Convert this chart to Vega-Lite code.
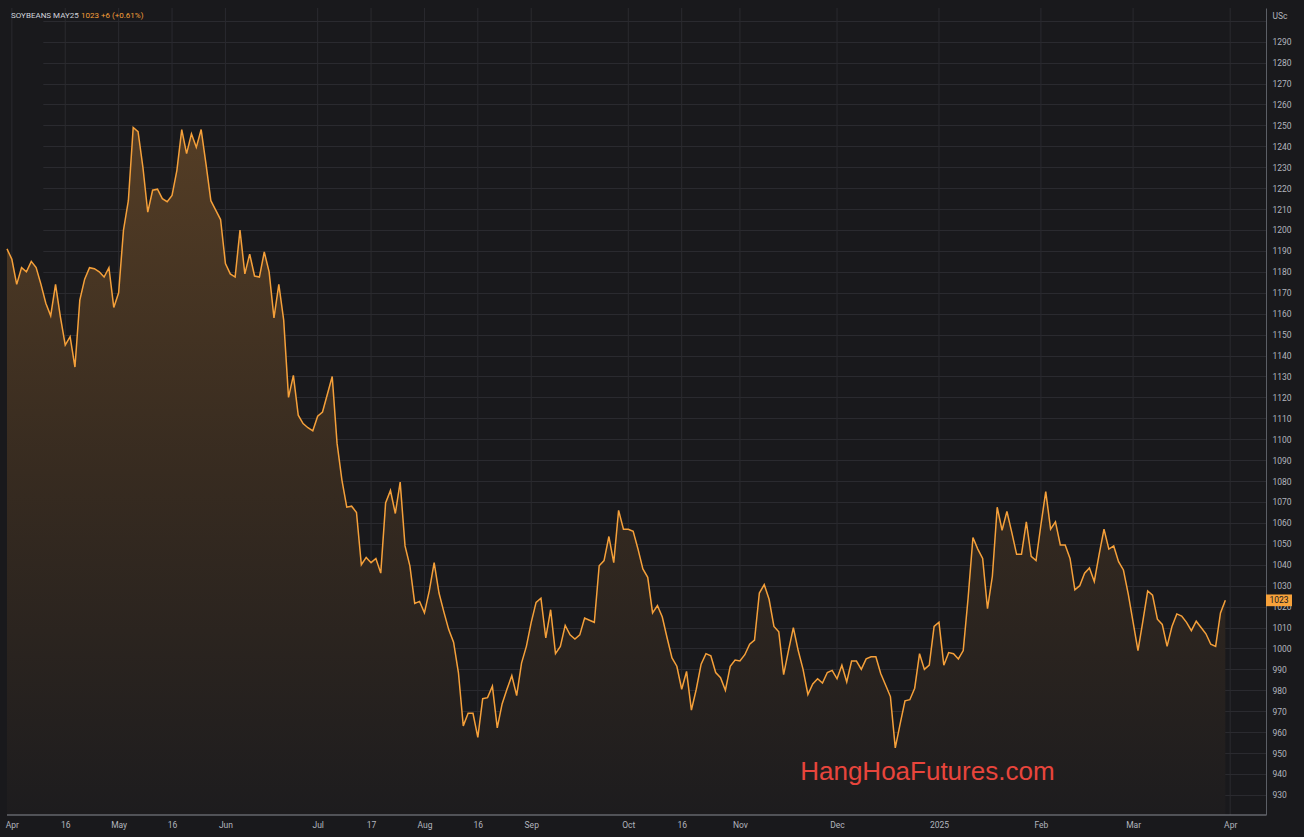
{
  "$schema": "https://vega.github.io/schema/vega-lite/v6.json",
  "width": 1259,
  "height": 807,
  "autosize": {"type": "none"},
  "padding": {"left": 7, "top": 8, "right": 38, "bottom": 22},
  "background": "#19191c",
  "config": {"view": {"stroke": null}, "font": "Roboto"},
  "datasets": {
    "ticks": [
      {"d": "2024-04-01"}, {"d": "2024-04-16"}, {"d": "2024-05-01"}, {"d": "2024-05-16"},
      {"d": "2024-06-03"}, {"d": "2024-07-01"}, {"d": "2024-07-17"}, {"d": "2024-08-01"},
      {"d": "2024-08-16"}, {"d": "2024-09-03"}, {"d": "2024-10-01"}, {"d": "2024-10-16"},
      {"d": "2024-11-01"}, {"d": "2024-12-02"}, {"d": "2025-01-02"}, {"d": "2025-02-03"},
      {"d": "2025-03-03"}, {"d": "2025-04-01"}
    ],
    "prices": [
      {"d":"2024-03-28","v":1191},{"d":"2024-04-01","v":1186},{"d":"2024-04-02","v":1174},{"d":"2024-04-03","v":1182},
      {"d":"2024-04-04","v":1180},{"d":"2024-04-05","v":1185},{"d":"2024-04-08","v":1182},{"d":"2024-04-09","v":1174},
      {"d":"2024-04-10","v":1165},{"d":"2024-04-11","v":1159},{"d":"2024-04-12","v":1174},{"d":"2024-04-15","v":1158.5},
      {"d":"2024-04-16","v":1145},{"d":"2024-04-17","v":1149},{"d":"2024-04-18","v":1134.5},{"d":"2024-04-19","v":1166.5},
      {"d":"2024-04-22","v":1176.5},{"d":"2024-04-23","v":1182},{"d":"2024-04-24","v":1181.5},{"d":"2024-04-25","v":1180},
      {"d":"2024-04-26","v":1177.5},{"d":"2024-04-29","v":1182},{"d":"2024-04-30","v":1163},{"d":"2024-05-01","v":1170},
      {"d":"2024-05-02","v":1200},{"d":"2024-05-03","v":1214},{"d":"2024-05-06","v":1249},{"d":"2024-05-07","v":1247},
      {"d":"2024-05-08","v":1230},{"d":"2024-05-09","v":1208.5},{"d":"2024-05-10","v":1219},{"d":"2024-05-13","v":1219.5},
      {"d":"2024-05-14","v":1215},{"d":"2024-05-15","v":1213.5},{"d":"2024-05-16","v":1216.5},{"d":"2024-05-17","v":1228.5},
      {"d":"2024-05-20","v":1248},{"d":"2024-05-21","v":1236.5},{"d":"2024-05-22","v":1246},{"d":"2024-05-23","v":1239.5},
      {"d":"2024-05-24","v":1248},{"d":"2024-05-28","v":1231.5},{"d":"2024-05-29","v":1214},{"d":"2024-05-30","v":1209.5},
      {"d":"2024-05-31","v":1205},{"d":"2024-06-03","v":1184},{"d":"2024-06-04","v":1179},{"d":"2024-06-05","v":1177.5},
      {"d":"2024-06-06","v":1200},{"d":"2024-06-07","v":1179},{"d":"2024-06-10","v":1188.5},{"d":"2024-06-11","v":1178},
      {"d":"2024-06-12","v":1177.5},{"d":"2024-06-13","v":1189.5},{"d":"2024-06-14","v":1180},{"d":"2024-06-17","v":1158},
      {"d":"2024-06-18","v":1174},{"d":"2024-06-20","v":1157},{"d":"2024-06-21","v":1120},{"d":"2024-06-24","v":1130.5},
      {"d":"2024-06-25","v":1111.5},{"d":"2024-06-26","v":1107.5},{"d":"2024-06-27","v":1105.5},{"d":"2024-06-28","v":1104},
      {"d":"2024-07-01","v":1111},{"d":"2024-07-02","v":1113},{"d":"2024-07-03","v":1121.5},{"d":"2024-07-05","v":1130},
      {"d":"2024-07-08","v":1098},{"d":"2024-07-09","v":1080.5},{"d":"2024-07-10","v":1067.5},{"d":"2024-07-11","v":1068},
      {"d":"2024-07-12","v":1065},{"d":"2024-07-15","v":1040},{"d":"2024-07-16","v":1043.5},{"d":"2024-07-17","v":1041},
      {"d":"2024-07-18","v":1043},{"d":"2024-07-19","v":1036},{"d":"2024-07-22","v":1069.5},{"d":"2024-07-23","v":1075.5},
      {"d":"2024-07-24","v":1064.5},{"d":"2024-07-25","v":1079.5},{"d":"2024-07-26","v":1049},{"d":"2024-07-29","v":1039.5},
      {"d":"2024-07-30","v":1021.5},{"d":"2024-07-31","v":1022.5},{"d":"2024-08-01","v":1017},{"d":"2024-08-02","v":1027.5},
      {"d":"2024-08-05","v":1041},{"d":"2024-08-06","v":1026.5},{"d":"2024-08-07","v":1017.5},{"d":"2024-08-08","v":1009},
      {"d":"2024-08-09","v":1003},{"d":"2024-08-12","v":988.5},{"d":"2024-08-13","v":963},{"d":"2024-08-14","v":969},
      {"d":"2024-08-15","v":969},{"d":"2024-08-16","v":957.5},{"d":"2024-08-19","v":976},{"d":"2024-08-20","v":976.5},
      {"d":"2024-08-21","v":982},{"d":"2024-08-22","v":962},{"d":"2024-08-23","v":973.5},{"d":"2024-08-26","v":980.5},
      {"d":"2024-08-27","v":987},{"d":"2024-08-28","v":977.5},{"d":"2024-08-29","v":993},{"d":"2024-08-30","v":1001},
      {"d":"2024-09-03","v":1012.5},{"d":"2024-09-04","v":1022},{"d":"2024-09-05","v":1024},{"d":"2024-09-06","v":1005},
      {"d":"2024-09-09","v":1018.5},{"d":"2024-09-10","v":997.5},{"d":"2024-09-11","v":1001},{"d":"2024-09-12","v":1011},
      {"d":"2024-09-13","v":1006.5},{"d":"2024-09-16","v":1004.5},{"d":"2024-09-17","v":1006.5},{"d":"2024-09-18","v":1014.5},
      {"d":"2024-09-19","v":1013.5},{"d":"2024-09-20","v":1012.5},{"d":"2024-09-23","v":1039.5},{"d":"2024-09-24","v":1042},
      {"d":"2024-09-25","v":1053.5},{"d":"2024-09-26","v":1041},{"d":"2024-09-27","v":1066},{"d":"2024-09-30","v":1057},
      {"d":"2024-10-01","v":1057},{"d":"2024-10-02","v":1056},{"d":"2024-10-03","v":1047.5},{"d":"2024-10-04","v":1038},
      {"d":"2024-10-07","v":1034},{"d":"2024-10-08","v":1017},{"d":"2024-10-09","v":1020.5},{"d":"2024-10-10","v":1015},
      {"d":"2024-10-11","v":1005},{"d":"2024-10-14","v":995.5},{"d":"2024-10-15","v":991.5},{"d":"2024-10-16","v":980.5},
      {"d":"2024-10-17","v":989},{"d":"2024-10-18","v":970.5},{"d":"2024-10-21","v":980.5},{"d":"2024-10-22","v":992.5},
      {"d":"2024-10-23","v":997.5},{"d":"2024-10-24","v":996.5},{"d":"2024-10-25","v":988.5},{"d":"2024-10-28","v":986},
      {"d":"2024-10-29","v":980},{"d":"2024-10-30","v":991.5},{"d":"2024-10-31","v":994.5},{"d":"2024-11-01","v":994},
      {"d":"2024-11-04","v":997},{"d":"2024-11-05","v":1002},{"d":"2024-11-06","v":1004},{"d":"2024-11-07","v":1026.5},
      {"d":"2024-11-08","v":1030.5},{"d":"2024-11-11","v":1023.5},{"d":"2024-11-12","v":1010.5},{"d":"2024-11-13","v":1008},
      {"d":"2024-11-14","v":987.5},{"d":"2024-11-15","v":999},{"d":"2024-11-18","v":1010},{"d":"2024-11-19","v":999},
      {"d":"2024-11-20","v":990},{"d":"2024-11-21","v":978},{"d":"2024-11-22","v":983},{"d":"2024-11-25","v":985.5},
      {"d":"2024-11-26","v":983.5},{"d":"2024-11-27","v":988.5},{"d":"2024-11-29","v":989.5},{"d":"2024-12-02","v":985.5},
      {"d":"2024-12-03","v":992},{"d":"2024-12-04","v":984},{"d":"2024-12-05","v":994},{"d":"2024-12-06","v":994},
      {"d":"2024-12-09","v":990},{"d":"2024-12-10","v":995},{"d":"2024-12-11","v":996},{"d":"2024-12-12","v":996},
      {"d":"2024-12-13","v":988},{"d":"2024-12-16","v":982.5},{"d":"2024-12-17","v":977},{"d":"2024-12-18","v":952.5},
      {"d":"2024-12-19","v":964},{"d":"2024-12-20","v":975},{"d":"2024-12-23","v":975.5},{"d":"2024-12-24","v":981},
      {"d":"2024-12-26","v":997.5},{"d":"2024-12-27","v":990},{"d":"2024-12-30","v":992},{"d":"2024-12-31","v":1010.5},
      {"d":"2025-01-02","v":1012.5},{"d":"2025-01-03","v":992},{"d":"2025-01-06","v":998},{"d":"2025-01-07","v":997.5},
      {"d":"2025-01-08","v":995},{"d":"2025-01-09","v":999},{"d":"2025-01-10","v":1024},{"d":"2025-01-13","v":1053},
      {"d":"2025-01-14","v":1047.5},{"d":"2025-01-15","v":1043},{"d":"2025-01-16","v":1019},{"d":"2025-01-17","v":1034.5},
      {"d":"2025-01-21","v":1067.5},{"d":"2025-01-22","v":1056.5},{"d":"2025-01-23","v":1065.5},{"d":"2025-01-24","v":1055.5},
      {"d":"2025-01-27","v":1045},{"d":"2025-01-28","v":1045},{"d":"2025-01-29","v":1060.5},{"d":"2025-01-30","v":1044},
      {"d":"2025-01-31","v":1042},{"d":"2025-02-03","v":1059},{"d":"2025-02-04","v":1075},{"d":"2025-02-05","v":1057},
      {"d":"2025-02-06","v":1060.5},{"d":"2025-02-07","v":1049.5},{"d":"2025-02-10","v":1049.5},{"d":"2025-02-11","v":1043},
      {"d":"2025-02-12","v":1028},{"d":"2025-02-13","v":1030},{"d":"2025-02-14","v":1036},{"d":"2025-02-18","v":1038.5},
      {"d":"2025-02-19","v":1032},{"d":"2025-02-20","v":1045},{"d":"2025-02-21","v":1057},{"d":"2025-02-24","v":1047.5},
      {"d":"2025-02-25","v":1049},{"d":"2025-02-26","v":1041.5},{"d":"2025-02-27","v":1037.5},{"d":"2025-02-28","v":1026},
      {"d":"2025-03-03","v":1012.5},{"d":"2025-03-04","v":999},{"d":"2025-03-05","v":1013},{"d":"2025-03-06","v":1027.5},
      {"d":"2025-03-07","v":1025.5},{"d":"2025-03-10","v":1014},{"d":"2025-03-11","v":1011.5},{"d":"2025-03-12","v":1001},
      {"d":"2025-03-13","v":1010.5},{"d":"2025-03-14","v":1016.5},{"d":"2025-03-17","v":1015.5},{"d":"2025-03-18","v":1012.5},
      {"d":"2025-03-19","v":1008.5},{"d":"2025-03-20","v":1013},{"d":"2025-03-21","v":1010},{"d":"2025-03-24","v":1007},
      {"d":"2025-03-25","v":1002},{"d":"2025-03-26","v":1001},{"d":"2025-03-27","v":1017},{"d":"2025-03-28","v":1023}
    ]
  },
  "layer": [
    {
      "data": {"name": "ticks"},
      "mark": {"type": "rule", "color": "#2a2a2f", "strokeWidth": 1},
      "encoding": {
        "x": {
          "field": "d",
          "type": "ordinal",
          "scale": {"type": "point", "padding": 0, "align": 0, "range": [0, 1223.2]},
          "axis": {
            "values": ["2024-04-01","2024-04-16","2024-05-01","2024-05-16","2024-06-03","2024-07-01","2024-07-17","2024-08-01","2024-08-16","2024-09-03","2024-10-01","2024-10-16","2024-11-01","2024-12-02","2025-01-02","2025-02-03","2025-03-03","2025-04-01"],
            "labelExpr": "utcdate(toDate(datum.value)) > 9 ? utcFormat(toDate(datum.value), '%d') : (utcmonth(toDate(datum.value)) == 0 ? utcFormat(toDate(datum.value), '%Y') : utcFormat(toDate(datum.value), '%b'))",
            "labelAngle": 0,
            "labelOverlap": false,
            "grid": false,
            "ticks": false,
            "domain": false,
            "labelColor": "#b2b5be",
            "labelFontSize": 8.5,
            "labelPadding": 5,
            "title": null
          }
        }
      }
    },
    {
      "data": {"name": "prices"},
      "mark": {
        "type": "area",
        "interpolate": "linear",
        "opacity": 1,
        "color": {
          "gradient": "linear",
          "x1": 0, "y1": 0, "x2": 0, "y2": 1,
          "stops": [
            {"offset": 0, "color": "#543d25"},
            {"offset": 0.5, "color": "#372b20"},
            {"offset": 1, "color": "#1d1c1e"}
          ]
        },
        "line": {"color": "#f5a03a", "strokeWidth": 1.5}
      },
      "encoding": {
        "x": {"field": "d", "type": "ordinal"},
        "y": {
          "field": "v",
          "type": "quantitative",
          "scale": {"domain": [920.4, 1306.1], "nice": false, "zero": false},
          "axis": {
            "orient": "right",
            "values": [930,940,950,960,970,980,990,1000,1010,1020,1030,1040,1050,1060,1070,1080,1090,1100,1110,1120,1130,1140,1150,1160,1170,1180,1190,1200,1210,1220,1230,1240,1250,1260,1270,1280,1290,1300],
            "tickCount": 60,
            "format": "d",
            "labelExpr": "datum.value >= 1300 ? '' : datum.label",
            "labelOverlap": false,
            "grid": true,
            "gridColor": "#2a2a2f",
            "ticks": false,
            "domainColor": "#5c5f66",
            "labelColor": "#b2b5be",
            "labelFontSize": 8.5,
            "labelPadding": 6,
            "labelAlign": "left",
            "title": "USc",
            "titleAngle": 0,
            "titleAlign": "left",
            "titleBaseline": "middle",
            "titleX": 6,
            "titleY": 7,
            "titleColor": "#b2b5be",
            "titleFontSize": 8.5,
            "titleFontWeight": "normal"
          }
        },
        "y2": {"datum": 920.4}
      }
    },
    {
      "data": {"values": [{}]},
      "mark": {"type": "rule", "color": "#888b92", "strokeWidth": 1},
      "encoding": {
        "y": {"datum": 920.4, "type": "quantitative"}
      }
    },
    {
      "data": {"values": [{}]},
      "mark": {"type": "text", "align": "left", "baseline": "middle", "fontSize": 8, "color": "#d1d4dc", "dx": 4},
      "encoding": {
        "x": {"datum": "2024-03-28", "type": "ordinal"},
        "y": {"datum": 1302.3, "type": "quantitative"},
        "text": {"value": "SOYBEANS MAY25"}
      }
    },
    {
      "data": {"values": [{}]},
      "mark": {"type": "text", "align": "left", "baseline": "middle", "fontSize": 8, "color": "#f5a03a", "dx": 74},
      "encoding": {
        "x": {"datum": "2024-03-28", "type": "ordinal"},
        "y": {"datum": 1302.3, "type": "quantitative"},
        "text": {"value": "1023  +6 (+0.61%)"}
      }
    },
    {
      "data": {"values": [{}]},
      "mark": {"type": "text", "align": "left", "baseline": "middle", "fontSize": 26, "font": "Liberation Sans", "color": "#e8453c", "dx": 2},
      "encoding": {
        "x": {"datum": "2024-11-19", "type": "ordinal"},
        "y": {"datum": 941, "type": "quantitative"},
        "text": {"value": "HangHoaFutures.com"}
      }
    },
    {
      "data": {"name": "prices"},
      "transform": [{"filter": "datum.d == '2025-03-28'"}],
      "mark": {"type": "point", "shape": "M-1,-0.45L1,-0.45L1,0.45L-1,0.45Z", "size": 676, "filled": true, "color": "#f7a23b", "opacity": 1, "x": {"expr": "width + 13"}},
      "encoding": {
        "y": {"field": "v", "type": "quantitative"}
      }
    },
    {
      "data": {"name": "prices"},
      "transform": [{"filter": "datum.d == '2025-03-28'"}],
      "mark": {"type": "text", "align": "center", "baseline": "middle", "fontSize": 8.5, "color": "#131722", "x": {"expr": "width + 13"}},
      "encoding": {
        "y": {"field": "v", "type": "quantitative"},
        "text": {"field": "v", "type": "quantitative", "format": "d"}
      }
    }
  ]
}
